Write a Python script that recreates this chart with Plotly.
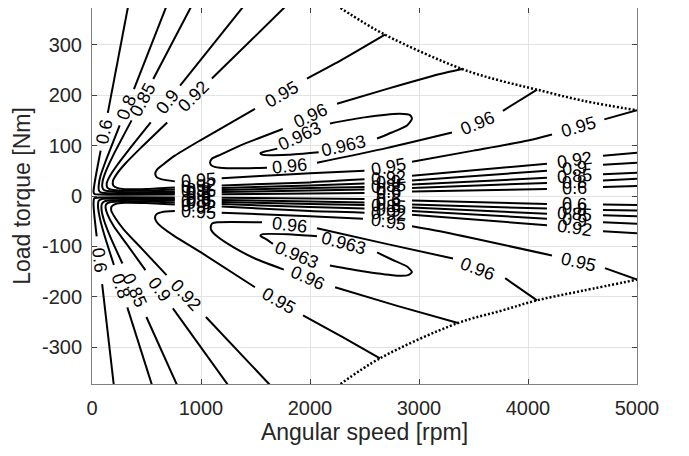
import plotly.graph_objects as go

# ---------------- contour lines (speed rpm, torque Nm) -------------
# None marks the gaps where the contour labels sit
c060_up_n = [330, 145, None, 79, 42, 20, 14, 22, 80, 300, 760, None, 1190, 2000, 2500, None, 2936, 4174, None, 4688, 5000]
c060_up_T = [375, 165, None, 90, 48, 20, 8, 4, 3, 2.5, 3, None, 3.5, 5, 6, None, 9, 14, None, 18, 20]

c080_up_n = [680, 385, None, 254, 120, 78, 62, 62, 80, 150, 300, 760, None, 1190, 2000, 2500, None, 2936, 4174, None, 4688, 5000]
c080_up_T = [375, 212, None, 140, 66, 40, 22, 12, 7, 5.5, 5, 6, None, 8, 11, 13, None, 16, 26, None, 31, 34]

c085_up_n = [908, 562, None, 363, 200, 125, 98, 95, 115, 200, 400, 760, None, 1190, 2000, 2500, None, 2936, 4174, None, 4688, 5000]
c085_up_T = [375, 232, None, 150, 83, 48, 30, 17, 11, 8.5, 7.5, 9, None, 12, 16, 18, None, 23, 36, None, 43, 46]

c090_up_n = [1385, 808, None, 539, 350, 220, 160, 135, 140, 170, 250, 450, 760, None, 1190, 2000, 2500, None, 2936, 4174, None, 4688, 5000]
c090_up_T = [375, 219, None, 146, 95, 58, 38, 25, 17, 13, 11, 10.5, 13, None, 16, 21, 25, None, 31, 50, None, 62, 66]

c092_up_n = [1770, 1100, None, 690, 450, 300, 225, 192, 195, 230, 300, 500, 760, None, 1190, 2000, 2500, None, 2936, 4174, None, 4688, 5000]
c092_up_T = [375, 233, None, 146, 96, 63, 43, 30, 21, 16, 13.5, 14, 17, None, 21, 27, 33, None, 40, 64, None, 80, 86]

c095_up_n = [2688, 2275, 1972, None, 1495, 990, 760, 650, 595, 580, 595, 640, 760, None, 1190, 1500, 2000, 2500, None, 2936, 3500, 4000, 4220, None, 4700, 5000]
c095_up_T = [320, 268, 233, None, 173, 110, 80, 62, 52, 44, 37, 33, 29, None, 35, 39, 45, 50, None, 68, 90, 110, 122, None, 152, 170]

c096_up_n = [3395, 3193, 2700, 2248, None, 1750, 1358, 1180, 1100, 1083, 1100, 1174, 1400, 1605, None, 2064, 2700, 3303, None, 3770, 4083]
c096_up_T = [252, 242, 212, 183, None, 133, 100, 82, 74, 66, 60, 56, 55, 56, None, 66, 95, 126, None, 169, 211]

c0963_up_n = [1700, 1600, 1545, 1560, 1800, 2080, None, 2615, 2750, 2890, 2935, 2920, 2825, 2500, 2183]
c0963_up_T = [94, 89, 85, 82, 82, 87, None, 114, 126, 140, 153, 160, 163, 156, 144]

c060_dn_n = [200, 93, None, 43, 22, 14, 20, 80, 300, 760, None, 1190, 2000, 2500, None, 2936, 4174, None, 4688, 5000]
c060_dn_T = [-375, -175, None, -80, -40, -15, -5, -3, -2.5, -3, None, -3.5, -5, -6, None, -9, -16, None, -17, -18]

c080_dn_n = [550, 324, None, 201, 110, 70, 55, 60, 90, 300, 760, None, 1190, 2000, 2500, None, 2936, 4174, None, 4688, 5000]
c080_dn_T = [-375, -221, None, -137, -75, -42, -20, -10, -6, -5, -6, None, -8, -11, -13, None, -17, -25, None, -28, -29]

c085_dn_n = [780, 499, None, 279, 170, 110, 88, 90, 115, 200, 400, 760, None, 1190, 2000, 2500, None, 2936, 4174, None, 4688, 5000]
c085_dn_T = [-375, -240, None, -134, -82, -48, -28, -16, -10.5, -8.5, -7.5, -9, None, -12, -16, -18, None, -23, -35, None, -38, -40]

c090_dn_n = [1248, 742, None, 490, 320, 200, 145, 125, 130, 165, 250, 450, 760, None, 1190, 2000, 2500, None, 2936, 4174, None, 4688, 5000]
c090_dn_T = [-375, -223, None, -147, -96, -60, -38, -24, -16.5, -12.5, -11, -10.5, -13, None, -16, -22, -25, None, -30, -45, None, -52, -55]

c092_dn_n = [1633, 1045, None, 684, 450, 290, 215, 178, 180, 215, 300, 500, 760, None, 1190, 2000, 2500, None, 2936, 4174, None, 4688, 5000]
c092_dn_T = [-375, -240, None, -157, -103, -66, -44, -30, -21, -16, -13.5, -14, -17, None, -21, -30, -33, None, -37, -58, None, -70, -74]

c095_dn_n = [2642, 2300, 1936, None, 1495, 1000, 760, 642, 595, 578, 592, 640, 760, None, 1190, 2000, 2486, None, 2936, 3193, 4220, None, 4706, 5000]
c095_dn_T = [-322, -280, -237, None, -181, -112, -80, -62, -52, -43, -36, -32, -30, None, -33, -40, -45, None, -60, -70, -118, None, -143, -166]

c096_dn_n = [3358, 2800, 2230, None, 1760, 1495, 1300, 1147, 1095, 1090, 1105, 1150, 1560, None, 2064, 2700, 3312, None, 3790, 4083]
c096_dn_T = [-252, -218, -181, None, -146, -124, -102, -80, -68, -60, -54, -52, -52, None, -64, -95, -124, None, -163, -207]

c0963_dn_n = [1660, 1600, 1545, 1560, 1800, 2064, None, 2615, 2750, 2890, 2935, 2900, 2800, 2500, 2183]
c0963_dn_T = [-95, -86, -79, -76, -76, -80, None, -112, -126, -140, -151, -157, -158, -150, -138]

# maximum-torque envelope (dotted)
bnd_up_n = [2280, 2688, 3395, 3743, 4083, 4505, 5000]
bnd_up_T = [373, 320, 252, 229, 211, 189, 170]
bnd_dn_n = [2280, 2642, 3358, 3750, 4083, 4500, 5000]
bnd_dn_T = [-373, -322, -252, -228, -207, -188, -166]

# contour labels
lab_text = ["0.6", "0.8", "0.85", "0.9", "0.92", "0.95", "0.96", "0.963", "0.96", "0.963", "0.96", "0.95", "0.95", "0.95",
            "0.92", "0.9", "0.85", "0.8", "0.6",
            "0.92", "0.9", "0.85", "0.8", "0.6",
            "0.92", "0.9", "0.85", "0.8", "0.6",
            "0.6", "0.8", "0.85", "0.9", "0.92", "0.95", "0.96", "0.963", "0.96", "0.963", "0.96", "0.95", "0.95", "0.95",
            "0.92", "0.9", "0.85", "0.8", "0.6",
            "0.92", "0.9", "0.85", "0.8", "0.6",
            "0.92", "0.9", "0.85", "0.8", "0.6"]
lab_n = [112, 319, 462, 690, 935, 1743, 2000, 1906, 1816, 2303, 3541, 4460, 2716, 975,
         975, 975, 975, 975, 975,
         2718, 2718, 2718, 2718, 2718,
         4431, 4431, 4431, 4431, 4431,
         68, 263, 389, 616, 858, 1715, 1980, 1880, 1816, 2303, 3541, 4460, 2716, 975,
         975, 975, 975, 975, 975,
         2718, 2718, 2718, 2718, 2718,
         4431, 4431, 4431, 4431, 4431]
lab_T = [127, 176, 191, 187, 198, 203, 159, 120, 60, 99, 145, 137, 58, 31,
         19, 14.5, 10.5, 7, 3.3,
         36.5, 28, 20.5, 14.5, 7.5,
         72, 56, 39.5, 28.5, 16,
         -127, -179, -187, -185, -197, -209, -163, -118, -58, -94, -145, -131, -52, -31,
         -19, -14.5, -10.5, -7, -3.3,
         -35, -27.5, -20.5, -15, -7.5,
         -64, -48.5, -36, -26.5, -16.5]
lab_angle = [-79, -69, -62, -52, -45, -30, -25, -25, -6, -13, -23, -16, -10, -4,
             -3, -2, -2, -1, 0,
             -4, -4, -3, -2, -2,
             -8, -6, -4, -3, -2,
             83, 72, 66, 54, 47, 30, 24, 22, 6, 15, 21, 13, 9, 3,
             3, 2, 2, 1, 0,
             4, 4, 3, 2, 2,
             8, 6, 4, 3, 2]

x_ticks = [0, 1000, 2000, 3000, 4000, 5000]
y_ticks = [-300, -200, -100, 0, 100, 200, 300]

FONT = "Liberation Sans, Arial, Helvetica, sans-serif"
TXT = "#262626"

fig = go.Figure()

contours = [
    (c060_up_n, c060_up_T), (c080_up_n, c080_up_T), (c085_up_n, c085_up_T), (c090_up_n, c090_up_T),
    (c092_up_n, c092_up_T), (c095_up_n, c095_up_T), (c096_up_n, c096_up_T), (c0963_up_n, c0963_up_T),
    (c060_dn_n, c060_dn_T), (c080_dn_n, c080_dn_T), (c085_dn_n, c085_dn_T), (c090_dn_n, c090_dn_T),
    (c092_dn_n, c092_dn_T), (c095_dn_n, c095_dn_T), (c096_dn_n, c096_dn_T), (c0963_dn_n, c0963_dn_T),
]
for xs, ys in contours:
    fig.add_trace(go.Scatter(x=xs, y=ys, mode="lines", connectgaps=False, hoverinfo="skip",
                             line=dict(color="black", width=2, shape="spline", smoothing=0.6),
                             showlegend=False))

for xs, ys in [(bnd_up_n, bnd_up_T), (bnd_dn_n, bnd_dn_T)]:
    fig.add_trace(go.Scatter(x=xs, y=ys, mode="lines", hoverinfo="skip", showlegend=False,
                             line=dict(color="black", width=2.5, dash="2px,2px", shape="spline")))

for t, xn, yt, a in zip(lab_text, lab_n, lab_T, lab_angle):
    fig.add_annotation(x=xn, y=yt, text=t, textangle=a, showarrow=False,
                       xanchor="center", yanchor="middle",
                       font=dict(family=FONT, size=18, color="black"))

axis_common = dict(showline=True, linecolor="#808080", linewidth=1, mirror="ticks",
                   ticks="inside", ticklen=5, tickcolor="#404040", automargin=False,
                   showgrid=True, gridcolor="#e3e3e3", gridwidth=1, zeroline=False,
                   tickfont=dict(family=FONT, size=20, color=TXT))

fig.update_xaxes(range=[0, 5000], tickvals=x_ticks, ticktext=[str(v) for v in x_ticks],
                 title=dict(text="Angular speed [rpm]", font=dict(family=FONT, size=23, color=TXT), standoff=4),
                 ticklabelstandoff=6, **axis_common)
fig.update_yaxes(range=[-373, 373], tickvals=y_ticks, ticktext=[str(v) for v in y_ticks],
                 title=dict(text="Load torque [Nm]", font=dict(family=FONT, size=23, color=TXT), standoff=4),
                 ticklabelstandoff=5, **axis_common)

# page body adds an 8px offset, so margins are shifted to land the plot where the reference has it
fig.update_layout(width=689, height=456, margin=dict(l=84, r=60, t=0, b=80),
                  plot_bgcolor="white", paper_bgcolor="white", showlegend=False)

fig.write_html("out.html")
